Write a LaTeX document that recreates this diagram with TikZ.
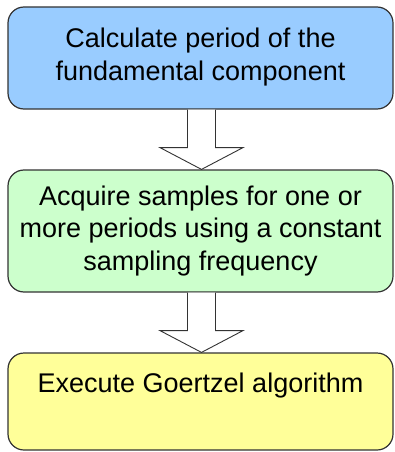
\documentclass[tikz,border=0pt]{standalone}
\usepackage{fontspec}
\setmainfont{Liberation Sans}
\usetikzlibrary{calc}
\definecolor{bluefill}{HTML}{99CCFF}
\definecolor{greenfill}{HTML}{CCFFCC}
\definecolor{yellowfill}{HTML}{FFFF99}
\definecolor{boxline}{HTML}{333333}
\definecolor{arrowline}{HTML}{333333}
\begin{document}
\begin{tikzpicture}[x=1pt,y=-1pt,
  box/.style={draw=boxline, line width=1.2pt, rounded corners=16pt, minimum width=385pt, inner sep=0pt},
  txt/.style={font=\fontsize{27}{32.5}\selectfont, align=center, inner sep=0pt},
  blockarrow/.style={draw=arrowline, line width=0.9pt, fill=white, line join=miter}]
\useasboundingbox (0,0) rectangle (395,452);
\node[box, fill=bluefill, minimum height=102pt] (b1) at (200.5,58) {};
\node[box, fill=greenfill, minimum height=122pt] (b2) at (200.5,231) {};
\node[box, fill=yellowfill, minimum height=97pt] (b3) at (200.5,401.5) {};
\node[txt] (t1) at ($(b1.center)+(0,-1)$) {Calculate period of the\\fundamental component};
\node[txt] (t2) at (b2.center) {Acquire samples for one or\\more periods using a constant\\sampling frequency};
\node[txt, anchor=base] (t3) at ($(b3.north)+(0,40)$) {Execute Goertzel algorithm};
\draw[blockarrow] ($(b1.south)+(-13,0)$) -- ($(b1.south)+(-13,38)$) -- ($(b1.south)+(-40.5,38)$) -- ($(b2.north)+(1,0)$) -- ($(b1.south)+(42.5,38)$) -- ($(b1.south)+(15,38)$) -- ($(b1.south)+(15,0)$);
\draw[blockarrow] ($(b2.south)+(-13,0)$) -- ($(b2.south)+(-13,38)$) -- ($(b2.south)+(-40.5,38)$) -- ($(b3.north)+(1,0)$) -- ($(b2.south)+(42.5,38)$) -- ($(b2.south)+(15,38)$) -- ($(b2.south)+(15,0)$);
\end{tikzpicture}
\end{document}
